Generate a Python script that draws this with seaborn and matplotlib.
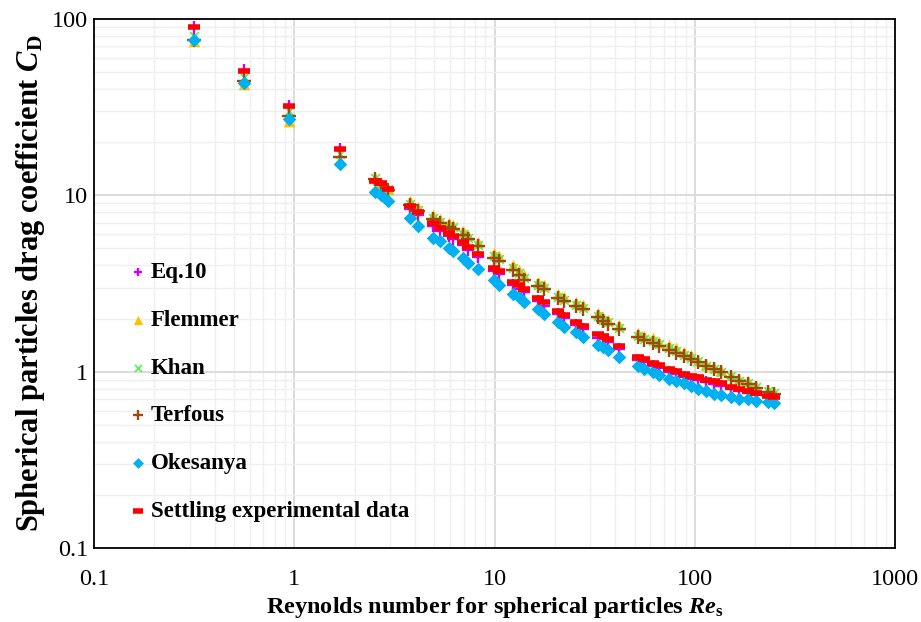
import matplotlib
matplotlib.use("Agg")
import matplotlib.pyplot as plt
import seaborn as sns

# Reynolds numbers of the settling tests
re_s = [0.316, 0.562, 0.944, 1.70, 2.54, 2.72, 2.95, 3.80, 4.17, 4.90, 5.37, 5.89, 6.17,
        6.92, 7.41, 8.22, 9.89, 10.5, 12.4, 13.2, 14.0, 16.4, 17.6, 20.7, 22.1, 25.4,
        27.5, 32.7, 34.7, 36.7, 41.7, 51.9, 55.6, 61.7, 66.1, 74.1, 80.4, 88.1, 95.5,
        103.5, 113.5, 124.5, 134.9, 151.4, 166.0, 184.1, 201.8, 231.7, 248.3]

cd_eq10 = [90.6, 51.3, 32.1, 18.4, 12.2, 11.5, 10.6, 8.32, 7.70, 6.68, 6.27, 5.88, 5.64,
           5.23, 4.90, 4.47, 3.73, 3.59, 3.11, 2.96, 2.84, 2.51, 2.37, 2.11, 2.01, 1.83,
           1.74, 1.56, 1.53, 1.47, 1.34, 1.16, 1.13, 1.08, 1.05, 1.00, 0.97, 0.93, 0.91,
           0.90, 0.87, 0.85, 0.83, 0.80, 0.78, 0.76, 0.74, 0.72, 0.71]

cd_flemmer = [74.8, 42.6, 26.5, 15.8, 12.5, 11.7, 10.9, 9.32, 8.62, 7.77, 7.38, 7.01, 6.83,
              6.31, 5.96, 5.46, 4.70, 4.52, 4.02, 3.76, 3.53, 3.22, 3.11, 2.77, 2.65, 2.49,
              2.40, 2.16, 2.05, 1.97, 1.84, 1.66, 1.60, 1.55, 1.48, 1.41, 1.36, 1.30, 1.25,
              1.17, 1.10, 1.06, 1.02, 0.96, 0.91, 0.88, 0.83, 0.79, 0.77]

cd_khan = [80.2, 47.0, 29.9, 17.2, 12.5, 11.5, 10.9, 8.97, 8.29, 7.48, 7.10, 6.74, 6.57,
           6.07, 5.73, 5.25, 4.52, 4.35, 3.87, 3.62, 3.40, 3.10, 2.99, 2.66, 2.55, 2.40,
           2.31, 2.08, 1.97, 1.90, 1.77, 1.60, 1.54, 1.49, 1.43, 1.36, 1.31, 1.25, 1.20,
           1.15, 1.08, 1.04, 1.00, 0.94, 0.89, 0.86, 0.82, 0.78, 0.76]

cd_terfous = [76.2, 44.5, 28.0, 16.5, 12.3, 11.5, 10.7, 8.79, 8.13, 7.33, 6.96, 6.61, 6.44,
              5.95, 5.62, 5.15, 4.43, 4.26, 3.79, 3.55, 3.33, 3.04, 2.93, 2.61, 2.50, 2.35,
              2.26, 2.04, 1.93, 1.86, 1.74, 1.57, 1.51, 1.46, 1.40, 1.33, 1.28, 1.23, 1.18,
              1.14, 1.07, 1.03, 0.99, 0.93, 0.88, 0.85, 0.81, 0.77, 0.75]

cd_okesanya = [76.2, 43.6, 27.1, 15.1, 10.5, 10.0, 9.25, 7.43, 6.70, 5.73, 5.52, 5.04, 4.84,
               4.43, 4.15, 3.84, 3.33, 3.12, 2.74, 2.64, 2.47, 2.26, 2.12, 1.91, 1.79, 1.68,
               1.57, 1.42, 1.38, 1.33, 1.21, 1.07, 1.04, 1.00, 0.96, 0.91, 0.88, 0.86, 0.83,
               0.80, 0.78, 0.75, 0.74, 0.72, 0.70, 0.70, 0.68, 0.67, 0.66]

cd_exp = [90.2, 51.0, 32.0, 18.4, 12.1, 11.7, 10.8, 8.67, 8.02, 6.96, 6.53, 6.12, 5.88,
          5.45, 5.10, 4.66, 3.89, 3.74, 3.24, 3.08, 2.96, 2.61, 2.47, 2.20, 2.09, 1.91,
          1.81, 1.63, 1.59, 1.53, 1.40, 1.21, 1.18, 1.12, 1.09, 1.04, 1.01, 0.97, 0.95,
          0.93, 0.90, 0.88, 0.86, 0.82, 0.80, 0.78, 0.76, 0.73, 0.72]

series = [
    ("Eq.10", cd_eq10, "+", "#CC00FF", 65, 1.7),
    ("Flemmer", cd_flemmer, "^", "#FFC000", 70, 0),
    ("Khan", cd_khan, "x", "#55EE55", 40, 1.2),
    ("Terfous", cd_terfous, "+", "#9C4A10", 90, 1.7),
    ("Okesanya", cd_okesanya, "D", "#00B0F0", 48, 0),
    ("Settling experimental data", cd_exp, "_", "#FF0000", 70, 4.0),
]

sns.set_theme(style="white")
plt.rcParams["font.family"] = ["Liberation Serif", "DejaVu Serif"]
plt.rcParams["mathtext.fontset"] = "custom"
plt.rcParams["mathtext.rm"] = "Liberation Serif:bold"
plt.rcParams["mathtext.it"] = "Liberation Serif:italic:bold"
plt.rcParams["mathtext.bf"] = "Liberation Serif:bold"
for key in ["text.color", "axes.labelcolor", "xtick.color", "ytick.color"]:
    plt.rcParams[key] = "black"

fig = plt.figure(figsize=(9.21, 6.22), dpi=100)
ax = fig.add_axes([0.102, 0.119, 0.870, 0.8505])

for name, cd, mk, col, size, lw in series:
    sns.scatterplot(x=re_s, y=cd, ax=ax, marker=mk, color=col, s=size,
                    linewidth=lw, edgecolor=col if lw == 0 else None, label=name,
                    zorder=3)

ax.set_xscale("log")
ax.set_yscale("log")
ax.set_xlim(0.1, 1000)
ax.set_ylim(0.1, 100)
ax.set_xticks([0.1, 1, 10, 100, 1000])
ax.set_xticklabels(["0.1", "1", "10", "100", "1000"])
ax.set_yticks([0.1, 1, 10, 100])
ax.set_yticklabels(["0.1", "1", "10", "100"])
ax.tick_params(which="both", length=0, labelsize=17.5)
ax.tick_params(axis="x", pad=15)
ax.tick_params(axis="y", pad=4)
ax.grid(True, which="major", color="#D9D9D9", linewidth=1.3)
ax.grid(True, which="minor", color="#EFEFEF", linewidth=1.0)
ax.set_axisbelow(True)
for sp in ax.spines.values():
    sp.set_color("black")
    sp.set_linewidth(1.3)

ax.set_xlabel(r"Reynolds number for spherical particles $Re_\mathrm{s}$",
              fontsize=17.5, fontweight="bold", labelpad=4)
ax.set_ylabel(r"Spherical particles drag coefficient $C_\mathrm{D}$",
              fontsize=22, fontweight="bold", labelpad=4)

ax.legend(loc="upper left", bbox_to_anchor=(0.018, 0.58), frameon=False,
          prop={"family": "Liberation Serif", "weight": "bold", "size": 16.5},
          labelspacing=1.17, handlelength=0.8, handletextpad=0.15, markerscale=0.8)

fig.savefig("out.png", dpi=100)
